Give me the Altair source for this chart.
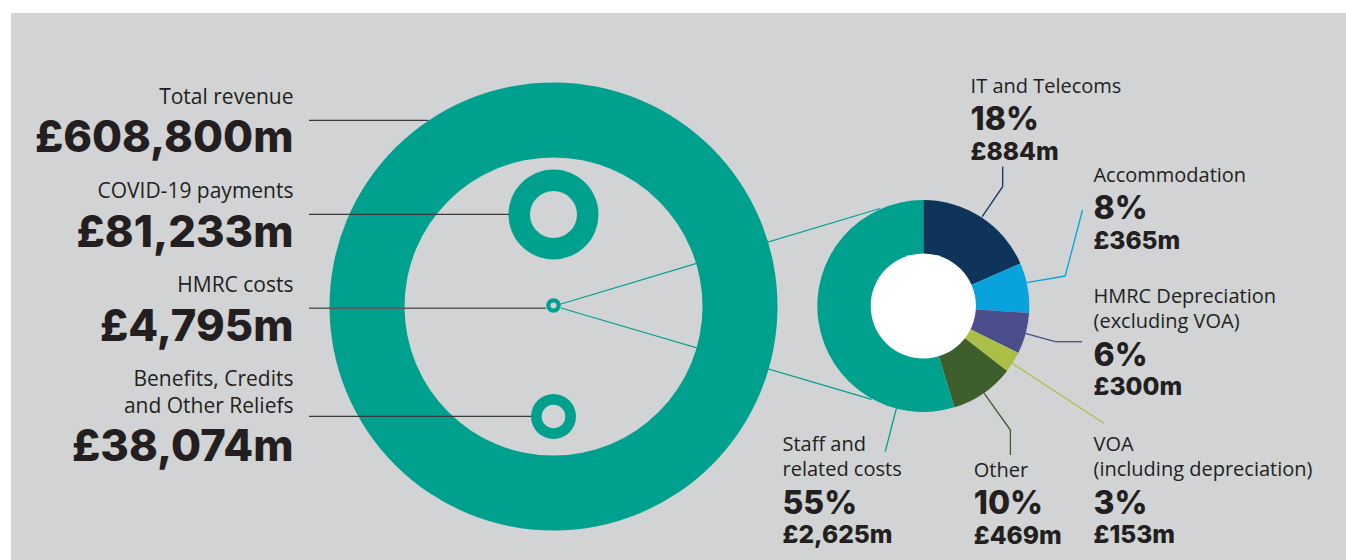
import math
import altair as alt
import pandas as pd

# ---------------- data ----------------
left_labels = [["Total revenue"], ["COVID-19 payments"], ["HMRC costs"],
               ["Benefits, Credits", "and Other Reliefs"]]
left_values = [608800, 81233, 4795, 38074]

cost_labels = [["IT and Telecoms"], ["Accommodation"],
               ["HMRC Depreciation", "(excluding VOA)"],
               ["VOA", "(including depreciation)"], ["Other"],
               ["Staff and", "related costs"]]
cost_values = [884, 365, 300, 153, 469, 2625]
cost_colors = ["#0e3459", "#08a3dd", "#4a4f8b", "#abbf47", "#3e5e2c", "#00a08f"]

# ---------------- layout (pixels) ----------------
W, H = 1346, 560
TEAL = "#00a08f"
BG = "#d1d3d4"
INK = "#231f20"
LABEL_FONT = "Open Sans"
NUM_FONT = "Inter"

# ring centre x, centre y, outer r, inner r for each left item
ring_geom = [(553.5, 306.5, 224, 149), (553.5, 214.5, 45, 23.5),
             (553.5, 305.5, 7.3, 3.0), (553.5, 416.5, 22.5, 11.8)]
left_text_x = 293.5
left_name_base = [104.3, 198.3, 292.3, 386.0]
left_value_base = [151.7, 246.7, 340.7, 461.0]

DON_CX, DON_CY, DON_R, DON_HOLE = 923.3, 306.0, 106, 52.6
cost_label_pos = [(970.6, 92.7), (1093.4, 181.7), (1093.5, 303.0),
                  (1093.5, 451.0), (973.8, 476.5), (782.5, 451.0)]
LINE_GAP, PCT_GAP, AMT_GAP = 25.0, 37.5, 29.5

segments = [
    # left leader lines
    (309, 120.3, 428.3, 120.3, "#3a3a3a", 1.2),
    (309, 214.3, 509, 214.3, "#3a3a3a", 1.2),
    (309, 308.3, 546, 308.3, "#5c5c5c", 1.6),
    (309, 416.3, 531.3, 416.3, "#3a3a3a", 1.2),
    # links from HMRC ring to breakdown donut
    (561, 304.0, 880, 208.5, TEAL, 1.3),
    (561, 308.0, 871.7, 399.3, TEAL, 1.3),
    # donut leaders
    (982.2, 216.7, 1002.7, 186.7, cost_colors[0], 1.3),
    (1002.7, 186.7, 1002.7, 166.7, cost_colors[0], 1.3),
    (1026.6, 282.7, 1065.2, 276.0, cost_colors[1], 1.3),
    (1065.2, 276.0, 1082.5, 210.0, cost_colors[1], 1.3),
    (1025.3, 333.3, 1055.2, 341.7, cost_colors[2], 1.3),
    (1055.2, 341.7, 1082.1, 341.7, cost_colors[2], 1.3),
    (1012.2, 363.3, 1103.8, 423.3, cost_colors[3], 1.3),
    (984.2, 393.3, 1010.4, 430.0, cost_colors[4], 1.3),
    (1010.4, 430.0, 1010.4, 455.0, cost_colors[4], 1.3),
    (896.4, 408.3, 885.2, 451.7, cost_colors[5], 1.3),
]

X = lambda f: alt.X(f, scale=None, axis=None)
Y = lambda f: alt.Y(f, scale=None, axis=None)
dummy = pd.DataFrame({"a": [0]})
TWO_PI = 2 * math.pi

layers = []

# background panel
layers.append(alt.Chart(dummy).mark_rect(color=BG).encode(
    x=alt.value(11), x2=alt.value(W), y=alt.value(13), y2=alt.value(H)))


def ring(cx, cy, ro, ri, color=TEAL):
    return alt.Chart(dummy).mark_arc(outerRadius=ro, innerRadius=ri, color=color).encode(
        x=alt.value(cx), y=alt.value(cy), theta=alt.value(0), theta2=alt.value(TWO_PI))


seg_df = pd.DataFrame(segments, columns=["x", "y", "x2", "y2", "col", "w"])


def rules(df):
    return alt.Chart(df).mark_rule().encode(
        x=X("x:Q"), y=Y("y:Q"), x2="x2:Q", y2="y2:Q",
        color=alt.Color("col:N", scale=None, legend=None),
        strokeWidth=alt.StrokeWidth("w:Q", scale=None, legend=None))


# big ring, then linking lines, then small rings, then left leaders
layers.append(ring(*ring_geom[0]))
layers.append(rules(seg_df.iloc[4:6]))
for g in ring_geom[1:]:
    layers.append(ring(*g))
layers.append(rules(seg_df.iloc[0:4]))
layers.append(rules(seg_df.iloc[6:]))

# breakdown donut
total = sum(cost_values)
cost_df = pd.DataFrame({
    "cat": [" ".join(l) for l in cost_labels],
    "value": cost_values,
    "ord": list(range(len(cost_values))),
})
layers.append(alt.Chart(cost_df).mark_arc(outerRadius=DON_R, innerRadius=0).encode(
    x=alt.value(DON_CX), y=alt.value(DON_CY),
    theta=alt.Theta("value:Q", stack=True),
    order=alt.Order("ord:Q"),
    color=alt.Color("cat:N", scale=alt.Scale(domain=list(cost_df["cat"]), range=cost_colors),
                    legend=None)))
layers.append(ring(DON_CX, DON_CY, DON_HOLE, 0, "#ffffff"))

# ---------------- text ----------------
def text_layer(rows, size, weight, align, font):
    df = pd.DataFrame(rows, columns=["text", "x", "y"])
    return alt.Chart(df).mark_text(
        align=align, baseline="alphabetic", fontSize=size, fontWeight=weight,
        font=font, color=INK).encode(x=X("x:Q"), y=Y("y:Q"), text="text:N")


left_name_rows, left_value_rows = [], []
for lines, v, nb, vb in zip(left_labels, left_values, left_name_base, left_value_base):
    for i, ln in enumerate(lines):
        left_name_rows.append((ln, left_text_x, nb + i * 27.3))
    left_value_rows.append((f"£{v:,}m", left_text_x, vb))

layers.append(text_layer(left_name_rows, 21, "normal", "right", LABEL_FONT))
layers.append(text_layer(left_value_rows, 43.5, 800, "right", NUM_FONT))

name_rows, pct_rows, amt_rows = [], [], []
for lines, v, (lx, ly) in zip(cost_labels, cost_values, cost_label_pos):
    for i, ln in enumerate(lines):
        name_rows.append((ln, lx, ly + i * LINE_GAP))
    last = ly + (len(lines) - 1) * LINE_GAP
    pct_rows.append((f"{round(v / total * 100)}%", lx, last + PCT_GAP))
    amt_rows.append((f"£{v:,}m", lx, last + PCT_GAP + AMT_GAP))

layers.append(text_layer(name_rows, 20, "normal", "left", LABEL_FONT))
layers.append(text_layer(pct_rows, 32, 800, "left", NUM_FONT))
layers.append(text_layer(amt_rows, 24.5, 800, "left", NUM_FONT))

chart = alt.layer(*layers).properties(
    width=W, height=H, autosize=alt.AutoSizeParams(type="none"), padding=0,
    background="#ffffff"
).configure_view(stroke=None)

chart.save("out.html", embed_options={"renderer": "svg", "actions": False})
